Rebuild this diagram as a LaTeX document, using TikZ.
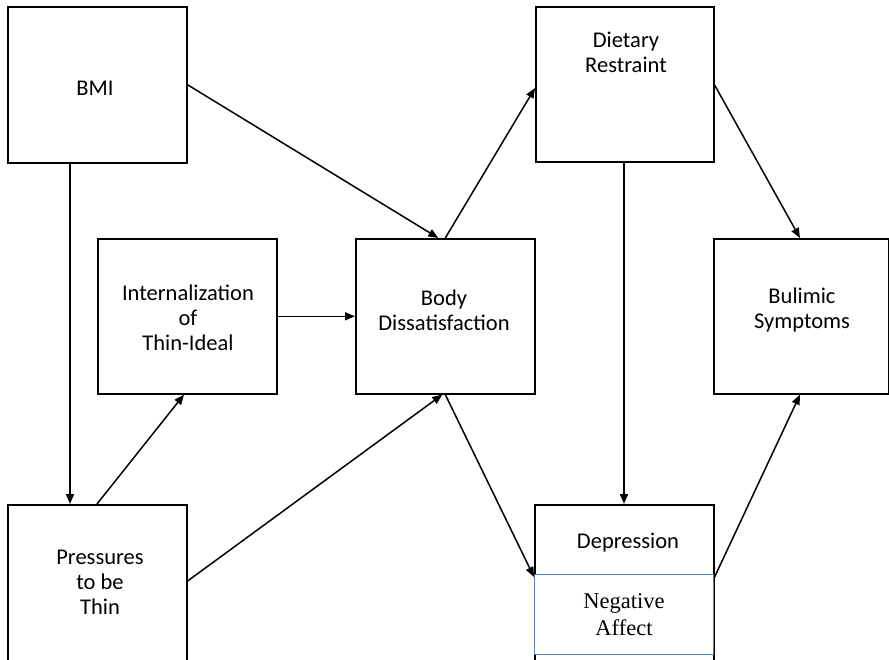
\documentclass[tikz,border=0pt]{standalone}
\usepackage{fontspec}
\setmainfont{Carlito}
\newfontfamily\timesfont{Liberation Serif}
\usetikzlibrary{arrows.meta,calc}
\definecolor{boxblue}{RGB}{79,129,189}
\tikzset{
  box/.style={draw=black,line width=1.6pt,rectangle,inner sep=0pt,anchor=north west},
  bluebox/.style={draw=boxblue,line width=1.1pt,rectangle,inner sep=0pt,anchor=north west,fill=white},
  lbl/.style={align=center,inner sep=0pt,font=\fontsize{22.5}{25}\selectfont},
  serif lbl/.style={align=center,inner sep=0pt,font=\timesfont\fontsize{22.5}{27}\selectfont},
  link/.style={draw=black,line width=1.5pt,-{Triangle[length=10pt,width=8pt]}}
}
\begin{document}
\begin{tikzpicture}[x=1pt,y=-1pt]
\clip (0,0) rectangle (889,659);
\fill[white] (0,0) rectangle (889,659);

% boxes
\node[box,minimum width=179pt,minimum height=156pt] (bmi) at (7,6) {};
\node[box,minimum width=179pt,minimum height=170pt] (press) at (7,504) {};
\node[box,minimum width=179pt,minimum height=155pt] (intl) at (97,238) {};
\node[box,minimum width=179pt,minimum height=155pt] (bd) at (355,238) {};
\node[box,minimum width=178pt,minimum height=155pt] (diet) at (535,6) {};
\node[box,minimum width=175pt,minimum height=155pt] (bul) at (713,238) {};
\node[box,minimum width=179pt,minimum height=170pt] (dep) at (534,504) {};
\node[bluebox,minimum width=179pt,minimum height=80pt] (na) at (534,574) {};

% labels
\node[lbl] (bmi-t) at (95,88) {BMI};
\node[lbl] (press-t) at (100,582) {Pressures\\to be\\Thin};
\node[lbl] (intl-t) at (188,318) {Internalization\\of\\Thin-Ideal};
\node[lbl] (bd-t) at (444,310) {Body\\Dissatisfaction};
\node[lbl] (diet-t) at (626,52) {Dietary\\Restraint};
\node[lbl] (bul-t) at (802,310) {Bulimic\\Symptoms};
\node[lbl] (dep-t) at (628,543) {Depression};
\node[serif lbl] (na-t) at (624,615) {Negative\\Affect};

% paths
\draw[link] (bmi.east) -- ($(bd.north)+(-7,0)$);
\draw[link] ($(bmi.south west)+(63,0)$) -- ($(press.north west)+(63,0)$);
\draw[link] ($(press.north west)+(90,0)$) -- ($(intl.south west)+(87,0)$);
\draw[link] ($(press.north east)+(0,77)$) -- ($(bd.south)+(-3,0)$);
\draw[link] (intl.east) -- (bd.west);
\draw[link] (bd.north) -- ($(diet.north west)+(0,82)$);
\draw[link] (bd.south) -- ($(na.north west)+(0,3)$);
\draw[link] ($(diet.north east)+(0,79)$) -- ($(bul.north west)+(87,0)$);
\draw[link] ($(diet.south west)+(89,0)$) -- ($(dep.north west)+(90,0)$);
\draw[link] ($(na.north east)+(0,4)$) -- ($(bul.south west)+(87,0)$);
\end{tikzpicture}
\end{document}
